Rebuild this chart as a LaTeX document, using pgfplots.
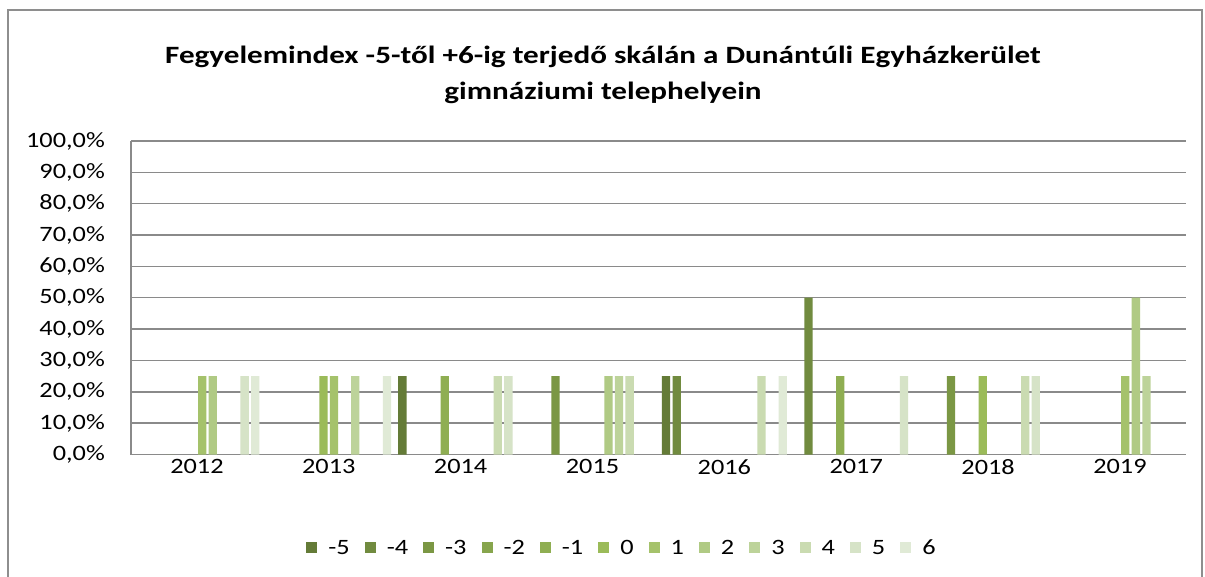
\documentclass[border=0pt]{standalone}
\usepackage{fontspec}
\setmainfont{Carlito}[FakeStretch=1.2]
\newfontfamily\titlefont{Carlito}[FakeStretch=1.25]
\usepackage{pgfplots}
\pgfplotsset{compat=1.18}

% monochromatic green shades, darkest (-5) to lightest (6)
\definecolor{gA}{HTML}{647B37}
\definecolor{gB}{HTML}{718B3F}
\definecolor{gC}{HTML}{7B9744}
\definecolor{gD}{HTML}{87A54D}
\definecolor{gE}{HTML}{8FAE52}
\definecolor{gF}{HTML}{9BBB59}
\definecolor{gG}{HTML}{A5C26B}
\definecolor{gH}{HTML}{B0CA84}
\definecolor{gI}{HTML}{BDD39A}
\definecolor{gJ}{HTML}{CADBB1}
\definecolor{gK}{HTML}{D6E3C7}
\definecolor{gL}{HTML}{E0EAD6}
\definecolor{gridgray}{HTML}{8A8A8A}
\definecolor{framegray}{HTML}{8E8E8E}

\pgfplotsset{
  sqlegend/.style={legend image code/.code={\fill[##1] (0bp,-5.5bp) rectangle (11bp,5.5bp);}},
}

\begin{document}
\begin{tikzpicture}
\useasboundingbox (0bp,0bp) rectangle (1205bp,577bp);
\fill[white] (0bp,0bp) rectangle (1205bp,577bp);
\draw[framegray, line width=1.3bp] (8bp,-5bp) -- (8bp,567bp) -- (1202bp,567bp) -- (1202bp,-5bp);
\node[font=\titlefont\fontsize{25}{36}\selectfont\bfseries, align=center] at (603bp,502bp)
  {Fegyelemindex -5-től +6-ig terjedő skálán a Dunántúli Egyházkerület\\gimnáziumi telephelyein};

\begin{axis}[
  at={(131bp,122.5bp)}, anchor=south west,
  scale only axis, width=1055bp, height=313.5bp,
  xmin=-0.5, xmax=7.5, ymin=0, ymax=100,
  ybar=2.3bp, bar width=8.3bp,
  xtick={0,...,7}, xticklabels={2012,2013,2014,2015,2016,2017,2018,2019},
  ytick={0,10,...,100},
  yticklabel={\pgfmathprintnumber[fixed,fixed zerofill,precision=1,use comma]{\tick}\%},
  /pgf/number format/assume math mode=true,
  ticklabel style={font=\fontsize{22}{26}\selectfont},
  xticklabel style={anchor=north, inner sep=0pt, yshift=-5bp},
  yticklabel style={anchor=east, inner sep=0pt, xshift=-26bp},
  major tick length=0pt,
  axis x line*=bottom, axis y line*=left,
  axis line style={-, draw=gridgray, line width=1.5bp},
  ymajorgrids, grid style={draw=gridgray, line width=1.5bp},
  legend columns=-1,
  legend style={draw=none, fill=none, at={(0.4645,-0.2982)}, anchor=center,
    font=\fontsize{22}{26}\selectfont,
    /tikz/every odd column/.append style={column sep=11bp},
    /tikz/every even column/.append style={column sep=15bp},
    nodes={inner sep=0pt}},
  legend cell align=left,
]
% shares (in %) per discipline index value
\addplot[fill=gA, draw=none, sqlegend] coordinates {(2,25) (4,25)};
\addplot[fill=gB, draw=none, sqlegend] coordinates {(4,25) (5,50)};
\addplot[fill=gC, draw=none, sqlegend] coordinates {(3,25) (6,25)};
\addplot[fill=gD, draw=none, sqlegend] coordinates {(0,0)};
\addplot[fill=gE, draw=none, sqlegend] coordinates {(2,25) (5,25)};
\addplot[fill=gF, draw=none, sqlegend] coordinates {(1,25) (6,25)};
\addplot[fill=gG, draw=none, sqlegend] coordinates {(0,25) (1,25) (7,25)};
\addplot[fill=gH, draw=none, sqlegend] coordinates {(0,25) (3,25) (7,50)};
\addplot[fill=gI, draw=none, sqlegend] coordinates {(1,25) (3,25) (7,25)};
\addplot[fill=gJ, draw=none, sqlegend] coordinates {(2,25) (3,25) (4,25) (6,25)};
\addplot[fill=gK, draw=none, sqlegend] coordinates {(0,25) (2,25) (5,25) (6,25)};
\addplot[fill=gL, draw=none, sqlegend] coordinates {(0,25) (1,25) (4,25)};
\legend{-5,-4,-3,-2,-1,0,1,2,3,4,5,6}
\end{axis}
\end{tikzpicture}
\end{document}
